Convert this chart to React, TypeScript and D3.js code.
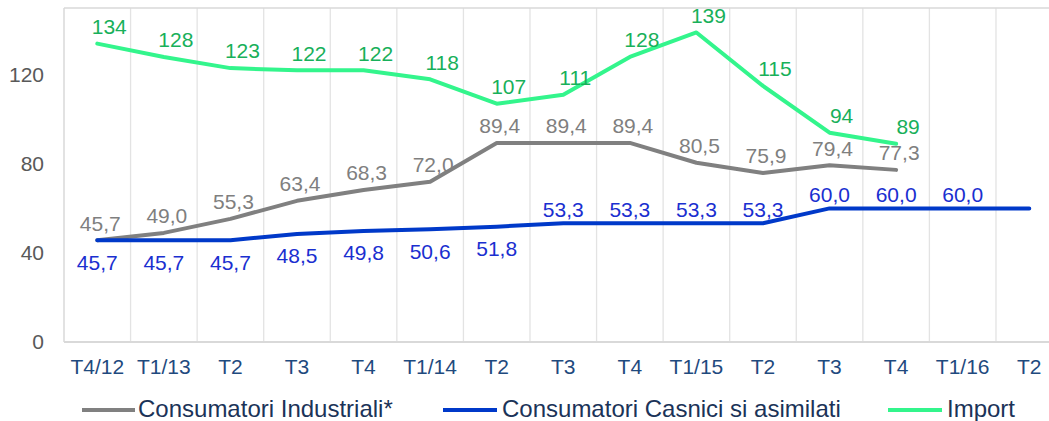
import React from "react";
import * as d3 from "d3";

const categories = ["T4/12", "T1/13", "T2", "T3", "T4", "T1/14", "T2", "T3", "T4", "T1/15", "T2", "T3", "T4", "T1/16", "T2"];
const industrial = [45.7, 49.0, 55.3, 63.4, 68.3, 72.0, 89.4, 89.4, 89.4, 80.5, 75.9, 79.4, 77.3];
const household = [45.7, 45.7, 45.7, 48.5, 49.8, 50.6, 51.8, 53.3, 53.3, 53.3, 53.3, 60.0, 60.0, 60.0, 60.0];
const householdLabelled = [true, true, true, true, true, true, true, true, true, true, true, true, true, true, false];
const importVals = [134, 128, 123, 122, 122, 118, 107, 111, 128, 139, 115, 94, 89];
const yTicks = [0, 40, 80, 120];
const seriesNames = ["Consumatori Industriali*", "Consumatori Casnici si asimilati", "Import"];

const W = 1049, H = 421;
const left = 64, top = 8, bottom = 342;
const band = 66.57;
const FONT = "'Liberation Sans', Arial, sans-serif";

export default function App() {
  const x = d3.scaleBand<number>().domain(categories.map((_, i) => i)).range([left, left + band * categories.length]).padding(0);
  const cx = (i: number) => (x(i) as number) + x.bandwidth() / 2;
  const y = d3.scaleLinear().domain([0, 150]).range([bottom, top]);
  const line = d3.line<number>().x((_, i) => cx(i)).y((d) => y(d));
  const fmt = (v: number) => v.toFixed(1).replace(".", ",");

  const gray = "#808080", blue = "#0039C9", green = "#33F58C";
  const grayLab = "#7F7F7F", blueLab = "#1A2FD0", greenLab = "#18B05A";
  const navy = "#1F4A7E";
  const legendNavy = "#1B3358";
  const fs = 21;

  return (
    <svg width={W} height={H} style={{ position: "absolute", left: 0, top: 0, background: "#fff" }} fontFamily={FONT}>
      {categories.map((_, i) => (
        <line key={"g" + i} x1={(x(i) as number) + band} x2={(x(i) as number) + band} y1={top} y2={bottom} stroke="#E3E3E3" strokeWidth={1.3} />
      ))}
      <line x1={left} x2={W} y1={top} y2={top} stroke="#D9D9D9" strokeWidth={1.5} />
      <line x1={left} x2={left} y1={top} y2={bottom} stroke="#D9D9D9" strokeWidth={1.5} />
      <line x1={left} x2={W} y1={bottom} y2={bottom} stroke="#D9D9D9" strokeWidth={2} />

      {yTicks.map((t) => (
        <text key={"y" + t} x={44} y={y(t)} dy="0.35em" textAnchor="end" fontSize={fs} fill="#595959">{t}</text>
      ))}
      {categories.map((c, i) => (
        <text key={"x" + i} x={cx(i)} y={374} textAnchor="middle" fontSize={fs} fill={navy}>{c}</text>
      ))}

      <path d={line(industrial) || ""} fill="none" stroke={gray} strokeWidth={4} strokeLinejoin="round" strokeLinecap="round" />
      <path d={line(household) || ""} fill="none" stroke={blue} strokeWidth={4} strokeLinejoin="round" strokeLinecap="round" />
      <path d={line(importVals) || ""} fill="none" stroke={green} strokeWidth={4} strokeLinejoin="round" strokeLinecap="round" />

      {industrial.map((v, i) => (
        <text key={"li" + i} x={cx(i) + 3} y={y(v) - 17} dy="0.35em" textAnchor="middle" fontSize={fs} fill={grayLab}>{fmt(v)}</text>
      ))}
      {household.map((v, i) =>
        householdLabelled[i] ? (
          <text key={"lh" + i} x={cx(i)} y={i <= 6 ? y(v) + 22 : y(v) - 14} dy="0.35em" textAnchor="middle" fontSize={fs} fill={blueLab}>{fmt(v)}</text>
        ) : null
      )}
      {importVals.map((v, i) => (
        <text key={"lm" + i} x={cx(i) + 12} y={y(v) - 17} dy="0.35em" textAnchor="middle" fontSize={fs} fill={greenLab}>{v}</text>
      ))}

      <line x1={82} x2={135} y1={410} y2={410} stroke={gray} strokeWidth={4} />
      <text x={138} y={417} fontSize={24} fill={legendNavy}>{seriesNames[0]}</text>
      <line x1={443} x2={497} y1={410} y2={410} stroke={blue} strokeWidth={4} />
      <text x={502} y={417} fontSize={24} fill={legendNavy}>{seriesNames[1]}</text>
      <line x1={888} x2={942} y1={410} y2={410} stroke={green} strokeWidth={4} />
      <text x={947} y={417} fontSize={24} fill={legendNavy}>{seriesNames[2]}</text>
    </svg>
  );
}
